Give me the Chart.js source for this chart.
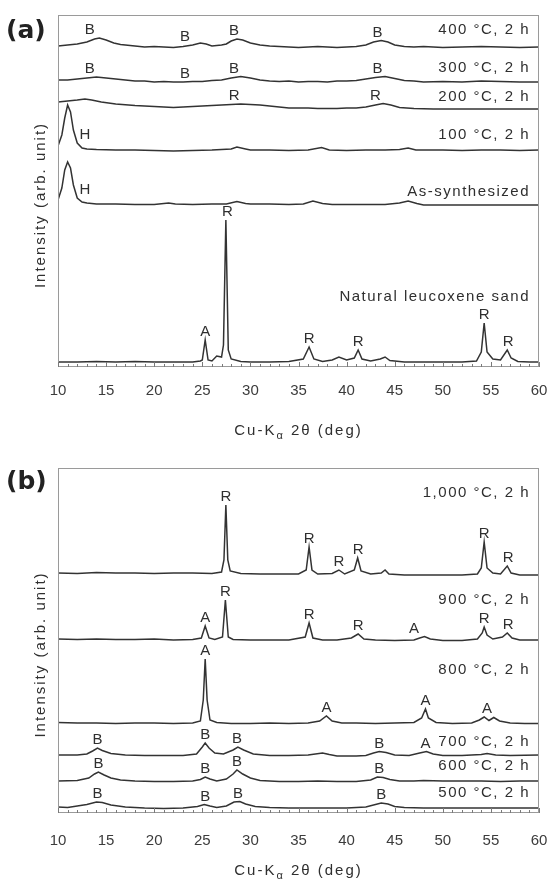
<!DOCTYPE html>
<html><head><meta charset="utf-8">
<script src="https://cdn.jsdelivr.net/npm/chart.js@4/dist/chart.umd.min.js"></script>
<style>
html,body{margin:0;padding:0;background:#fff;}
body{width:551px;height:884px;position:relative;overflow:hidden;}
canvas{position:absolute;left:0;}
#ca{top:0}#cb{top:442px}
</style></head><body>
<canvas id="ca" width="551" height="442"></canvas>
<canvas id="cb" width="551" height="442"></canvas>
<script>
// ---------- data (2θ in deg, intensity in arb. units, offsets included as plotted) ----------
const xTickValues = [10, 15, 20, 25, 30, 35, 40, 45, 50, 55, 60];

// Panel (a)
const a400 = [[10,321],[11,322],[12,323],[13,325],[13.8,328],[14.3,329],[15,327],[15.8,324],[16.5,322.5],[17,322],[18,321],[19,320],[20,320.5],[21,320],[22,319.5],[23,320.5],[24,322],[24.8,324],[25.4,323],[26,321],[27,322],[27.5,323],[28,326],[28.6,328],[29.2,327],[30,324],[31,322],[32,321],[33,320.5],[34,320],[35,319.5],[36,320],[37,320.5],[38,320],[39,319.5],[40,320],[41,320.5],[42,322],[42.8,325],[43.6,326.5],[44.3,325],[45,322],[46,320.5],[47,320],[48,320.5],[49,320],[50,319.5],[52,320],[54,320.5],[56,320],[58,319.5],[60,320]];
const a300 = [[10,287],[11,287],[12,288],[13,289],[14,290],[15,289],[16,288],[17,287],[18,286],[19,286],[20,285],[21,285.5],[22,285],[23,285],[24,285.5],[25,285.5],[26,286.5],[27,287],[28,289],[29,290.5],[30,289],[31,287],[32,286],[33,285.5],[34,286],[35,285],[36,285.5],[37,285.5],[38,285],[39,286],[40,286],[41,286.5],[42,288],[43,289.5],[44,290.5],[45,288.5],[46,286.5],[47,286],[48,285],[50,285.5],[52,285],[54,286],[56,285.5],[58,285],[60,285]];
const a200 = [[10,265],[11,266],[12,267],[12.8,268],[13.5,267],[14.5,265],[16,263],[18,261.5],[20,260.5],[22,259.5],[23,260],[24,260.5],[25,261],[26,261.5],[27,262],[28,262.5],[29,263],[30,262.5],[31,262],[32,261],[33,260],[34,259],[35,259],[36,259],[37,258.5],[38,258.5],[39,258.5],[40,259],[41,259],[42,260],[43,262],[43.8,263.5],[44.6,262],[45.5,259.5],[47,258.5],[49,258],[52,258],[55,258],[58,258],[60,258]];
const a100 = [[10,221],[10.4,232],[10.7,249],[11,262],[11.3,255],[11.6,237],[12,224],[12.5,219],[13,218],[14,217.5],[16,217],[18,217],[20,216.5],[22,216],[24,216.5],[26,217],[27,217.5],[28,218],[28.6,220],[29.5,218],[30,217],[32,217],[34,216.5],[36,217],[37.4,219.5],[38.2,217],[40,216.5],[42,217],[44,217],[45.5,217.5],[46.4,219],[47.2,217],[48,217],[50,217],[52,216.5],[54,217],[56,217],[58,216.5],[60,217]];
const aAsSynth = [[10,167],[10.4,179],[10.7,197],[11,205],[11.3,199],[11.6,182],[12,169],[12.5,165],[13,164],[14,163],[16,163],[18,162.5],[20,162.5],[21.5,164],[22.2,163],[24,162.5],[26,163],[27.5,163],[28.6,165.5],[29.5,163.5],[30,163],[32,163],[34,162.5],[35.5,163],[36.5,166],[37.5,163.5],[38.5,162.5],[40,162.5],[42,162.5],[44,162.5],[45.5,164],[46.4,166],[47.3,163.5],[48,162],[50,162],[52,162],[54,162],[56,162],[58,162],[60,162]];
const aNatural = [[10,5],[12,5],[14,5.5],[16,5],[18,5.5],[20,5],[22,5],[24,5],[24.8,6],[25,7],[25.3,27],[25.6,7],[26,6],[26.5,11],[27,10],[27.2,22],[27.45,147],[27.7,17],[28,8],[29,5.5],[30,5],[32,5],[34,5.5],[35.5,8],[36.1,20],[36.6,8],[37.5,5.5],[38.5,7],[39.2,10],[40,7],[40.8,9],[41.2,17],[41.6,8],[42.5,6],[43.5,8],[44,10],[44.5,6.5],[46,5],[48,5],[50,5],[52,5],[53.5,6],[54,15],[54.3,44],[54.6,15],[55.2,8],[56,7],[56.7,17],[57.1,9],[57.8,5.5],[59,5],[60,5]];

// Panel (b)
const b1000 = [[10,240],[12,239.5],[14,240.5],[16,240],[18,240],[20,239.5],[22,240],[24,240],[26,239.5],[27,241],[27.25,253],[27.45,308],[27.65,253],[27.9,242],[29,239.5],[31,239],[33,239],[35,239],[35.8,243],[36.1,266],[36.4,243],[37,239],[38.5,239.5],[39.2,243],[39.8,239],[40.8,243],[41.15,255],[41.5,242],[42.5,239],[43.6,240],[44,243],[44.4,239],[46,238],[48,238],[50,238],[52,238],[53.6,239],[54,245],[54.3,271],[54.6,245],[55.2,240],[56,239],[56.7,247],[57.1,240],[58,238],[60,238]];
const b900 = [[10,174],[12,173.5],[14,174],[16,173.5],[18,173.5],[20,174],[22,173],[24,173.5],[24.9,175],[25.3,187],[25.7,175],[26.3,173.5],[27.1,176],[27.4,213],[27.7,176],[28.2,173.5],[30,173],[32,173],[34,173],[35.7,176],[36.1,190],[36.5,175],[37.5,173],[39,173],[40.5,175],[41.2,179],[41.8,174],[43,173],[45,172.5],[47,173],[47.6,175],[48.1,176.5],[48.7,174],[50,172.5],[52,172.5],[53.6,174],[54.1,180],[54.3,186],[54.6,178],[55.2,174],[56.2,176],[56.7,180],[57.2,175],[58,173],[60,173]];
const b800 = [[10,90.5],[12,90],[14,90],[16,89.5],[18,90],[20,90],[22,89.5],[24,90],[24.8,92],[25.1,113],[25.3,154],[25.5,113],[25.8,93],[26.5,90.5],[28,89.5],[30,89.5],[32,90],[34,89.5],[36,90],[37.2,92],[37.9,97],[38.5,92],[39.5,90],[41,90],[43,89.5],[45,90],[47,90.5],[47.8,95],[48.2,104],[48.5,95],[49.3,90.5],[51,89.5],[53,90],[53.8,93],[54.3,96],[54.8,92.5],[55.3,95.5],[55.9,92],[57,90],[58.5,89.5],[60,89.5]];
const b700 = [[10,58],[12,58],[13,59],[13.6,62],[14.1,65],[14.6,62.5],[15.5,59.5],[17,58],[19,57.5],[21,57.5],[23,57.5],[24.4,59],[25,66],[25.3,70],[25.7,65],[26.3,60],[27.2,59],[28.2,63],[28.7,66],[29.3,63],[30.3,59],[32,57.5],[34,57.5],[36,58],[37.5,60],[38.2,58.5],[39,57],[40,57],[41,57],[42,57.5],[42.8,60],[43.4,61.5],[44.1,60.5],[45,58],[46.5,57.5],[47.6,60],[48.3,61.5],[49,59],[50,57.5],[52,57.5],[54,58.5],[54.6,59.5],[55.5,58],[57,57.5],[60,58]];
const b600 = [[10,32],[12,32.5],[13.2,35],[13.8,39],[14.2,41],[14.8,38],[15.5,35],[16.5,33],[18,32],[20,31.5],[22,31.5],[24,32],[24.8,33.5],[25.3,36],[25.8,34],[26.5,32],[27.5,34],[28.2,39],[28.6,43],[29.2,39],[30,35],[31,32.5],[33,31.5],[35,31.5],[37,32],[39,31.5],[41,31.5],[42.5,33],[43.2,36],[43.8,35.5],[44.5,33.5],[45.5,32],[47,32],[48,32.5],[50,32],[52,32],[54,32],[56,31.5],[58,32],[60,32]];
const b500 = [[10,6],[11,5.5],[12,7],[13,8.5],[14,11],[14.6,10.5],[15.5,8],[17,6],[19,5],[21,4.5],[23,5],[24.5,6.5],[25.2,8.5],[25.8,7],[26.5,5.5],[27.5,7],[28.3,11],[28.9,11.5],[29.5,9],[30.5,6.5],[32,5.5],[34,5],[36,5],[38,5],[40,5],[42,6],[43,8.5],[43.6,10],[44.3,9],[45,6.5],[46,5.5],[48,5],[50,5],[52,5],[54,5],[56,5],[58,5],[60,5]];

// Phase labels (letter, 2θ)
const pk400 = [['B',13.3],['B',23.2],['B',28.3],['B',43.2]];
const pk300 = [['B',13.3],['B',23.2],['B',28.3],['B',43.2]];
const pk200 = [['R',28.3],['R',43.0]];
const pk100 = [['H',12.8]];
const pkAsSynth = [['H',12.8]];
const pkNatural = [['A',25.3],['R',27.6],['R',36.1],['R',41.2],['R',54.3],['R',56.8]];
const pk1000 = [['R',27.45],['R',36.1],['R',39.2],['R',41.2],['R',54.3],['R',56.8]];
const pk900 = [['A',25.3],['R',27.4],['R',36.1],['R',41.2],['A',47.0],['R',54.3],['R',56.8]];
const pk800 = [['A',25.3],['A',37.9],['A',48.2],['A',54.6]];
const pk700 = [['B',14.1],['B',25.3],['B',28.6],['B',43.4],['A',48.2]];
const pk600 = [['B',14.2],['B',25.3],['B',28.6],['B',43.4]];
const pk500 = [['B',14.1],['B',25.3],['B',28.7],['B',43.6]];

// Sample names and the intensity level of their caption
const namesA = ['400 °C, 2 h', '300 °C, 2 h', '200 °C, 2 h', '100 °C, 2 h', 'As-synthesized', 'Natural leucoxene sand'];
const levelsA = [337, 299, 270, 232, 175, 70];
const namesB = ['1,000 °C, 2 h', '900 °C, 2 h', '800 °C, 2 h', '700 °C, 2 h', '600 °C, 2 h', '500 °C, 2 h'];
const levelsB = [320, 213, 143, 71, 47, 20];

// ---------- drawing ----------
const FONT = "'Liberation Sans', Arial, sans-serif";
const INK = '#2f2f2f';

function mkDatasets(series) {
  return series.map(s => ({
    data: s.map(p => ({ x: p[0], y: p[1] })),
    borderColor: '#333333', borderWidth: 1.5, pointRadius: 0, fill: false, tension: 0
  }));
}

const decor = {
  id: 'decor',
  afterDatasetsDraw(chart, args, o) {
    const { ctx, chartArea: ca, scales: { x, y } } = chart;
    ctx.save();
    // frame
    ctx.strokeStyle = '#9a9a9a'; ctx.lineWidth = 1;
    ctx.strokeRect(ca.left + 0.5, ca.top + 0.5, ca.width - 1, ca.height - 1);
    // inward ticks
    ctx.beginPath();
    for (let v = 10; v <= 60; v++) {
      const px = Math.round(x.getPixelForValue(v)) + 0.5;
      const len = v % 5 === 0 ? 5 : 3;
      ctx.moveTo(px, ca.bottom); ctx.lineTo(px, ca.bottom - len);
    }
    ctx.strokeStyle = '#7a7a7a'; ctx.stroke();

    ctx.fillStyle = INK;
    // phase labels
    ctx.font = `15px ${FONT}`; ctx.textAlign = 'center'; ctx.textBaseline = 'alphabetic';
    o.peaks.forEach((list, di) => {
      const data = chart.data.datasets[di].data;
      list.forEach(([t, at]) => {
        let m = -Infinity;
        data.forEach(p => { if (Math.abs(p.x - at) <= 1.2) m = Math.max(m, p.y); });
        ctx.fillText(t, x.getPixelForValue(at), y.getPixelForValue(m) - 4);
      });
    });
    // sample captions
    ctx.font = `15px ${FONT}`; ctx.textAlign = 'right'; ctx.textBaseline = 'middle';
    ctx.letterSpacing = '1.5px';
    o.names.forEach((n, i) => ctx.fillText(n, ca.right - 9, y.getPixelForValue(o.levels[i])));
    ctx.letterSpacing = '0px';
    // panel letter
    ctx.font = `bold 25px 'DejaVu Sans', sans-serif`; ctx.textAlign = 'left'; ctx.textBaseline = 'middle';
    ctx.fillStyle = '#222';
    ctx.fillText(o.letter, 6, o.letterY);
    // y title
    ctx.fillStyle = INK;
    ctx.save();
    ctx.translate(41, (ca.top + ca.bottom) / 2 + 14);
    ctx.rotate(-Math.PI / 2);
    ctx.font = `15px ${FONT}`; ctx.textAlign = 'center'; ctx.textBaseline = 'middle';
    ctx.letterSpacing = '2px';
    ctx.fillText('Intensity (arb. unit)', 0, 0);
    ctx.restore();
    // x title with subscript alpha
    ctx.letterSpacing = '2px';
    ctx.textBaseline = 'middle'; ctx.textAlign = 'left';
    const f1 = `15px ${FONT}`, f2 = `11px ${FONT}`;
    const p1 = 'Cu-K', p2 = 'α', p3 = ' 2θ (deg)';
    ctx.font = f1; const w1 = ctx.measureText(p1).width, w3 = ctx.measureText(p3).width;
    ctx.font = f2; const w2 = ctx.measureText(p2).width;
    let tx = (ca.left + ca.right) / 2 - (w1 + w2 + w3) / 2;
    const ty = ca.bottom + o.xTitleOffset;
    ctx.font = f1; ctx.fillText(p1, tx, ty); tx += w1;
    ctx.font = f2; ctx.fillText(p2, tx, ty + 5); tx += w2;
    ctx.font = f1; ctx.fillText(p3, tx, ty);
    ctx.restore();
  }
};

function makeChart(id, series, yMax, padTop, xHeight, tickPad, extra) {
  return new Chart(document.getElementById(id), {
    type: 'line',
    data: { datasets: mkDatasets(series) },
    plugins: [decor],
    options: {
      responsive: false, animation: false, devicePixelRatio: 1,
      layout: { padding: { top: padTop, left: 58, right: 12, bottom: 0 } },
      plugins: { legend: { display: false }, tooltip: { enabled: false }, decor: extra },
      scales: {
        x: {
          type: 'linear', min: 10, max: 60,
          afterBuildTicks: s => { s.ticks = xTickValues.map(v => ({ value: v })); },
          afterFit: s => { s.height = xHeight; s.paddingLeft = 0; s.paddingRight = 0; },
          grid: { display: false, drawTicks: false }, border: { display: false },
          ticks: { color: '#3c3c3c', font: { family: FONT, size: 15 }, padding: tickPad, maxRotation: 0, autoSkip: false }
        },
        y: { display: false, min: 0, max: yMax }
      }
    }
  });
}

makeChart('ca', [a400, a300, a200, a100, aAsSynth, aNatural], 352, 15, 75, 15,
  { peaks: [pk400, pk300, pk200, pk100, pkAsSynth, pkNatural], names: namesA, levels: levelsA, letter: '(a)', letterY: 31, xTitleOffset: 64 });
makeChart('cb', [b1000, b900, b800, b700, b600, b500], 345, 26, 71, 19,
  { peaks: [pk1000, pk900, pk800, pk700, pk600, pk500], names: namesB, levels: levelsB, letter: '(b)', letterY: 40, xTitleOffset: 58 });
</script>
</body></html>
